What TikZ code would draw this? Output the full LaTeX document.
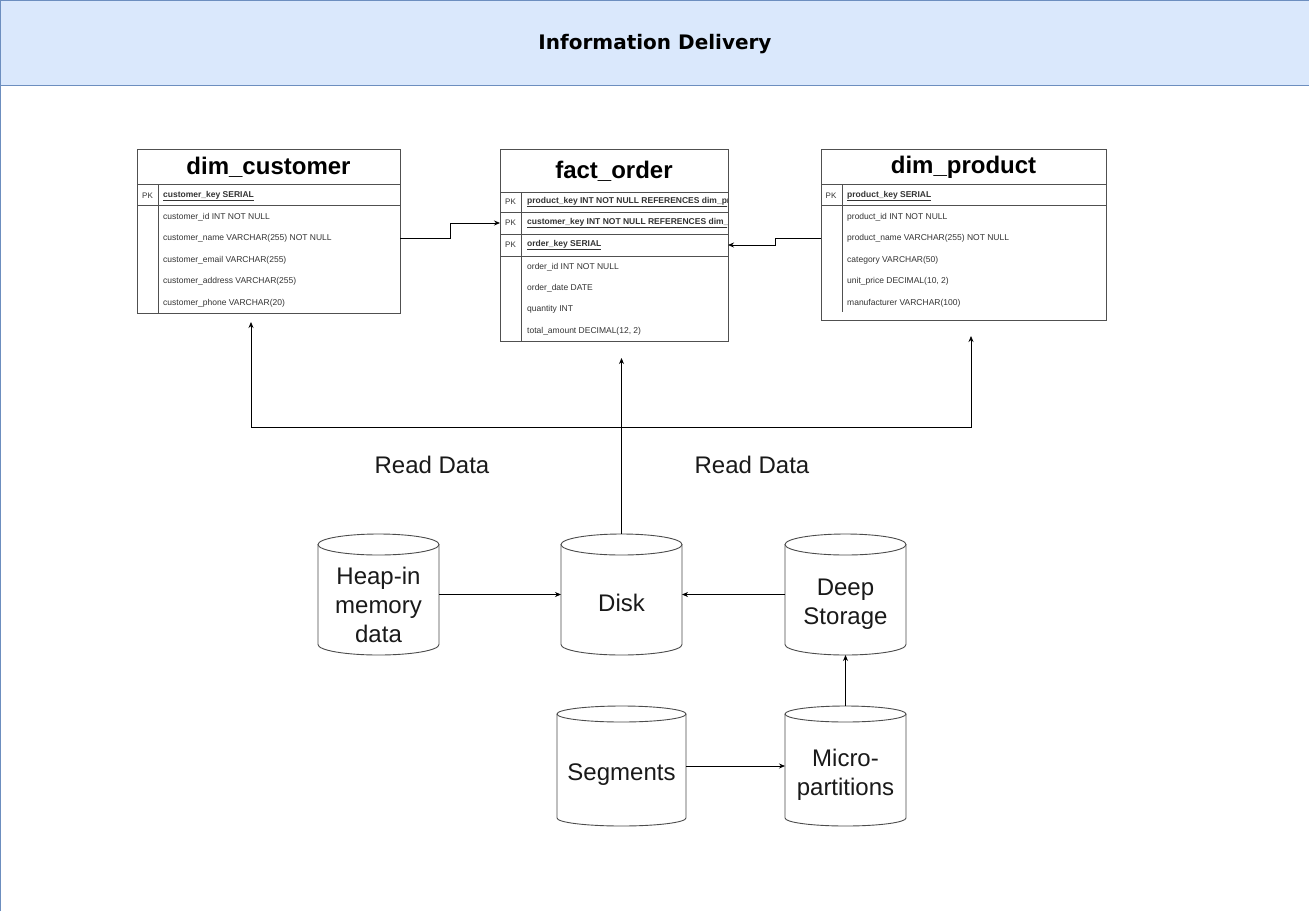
\documentclass[tikz,border=0pt]{standalone}
\usepackage{fontspec}
\setmainfont{Liberation Sans}
\newfontfamily\hdrfont{DejaVu Sans}
\usetikzlibrary{arrows.meta}
\definecolor{hdrfill}{HTML}{DAE8FC}
\definecolor{hdrline}{HTML}{6C8EBF}
\definecolor{tabline}{HTML}{505050}
\definecolor{txtgray}{HTML}{333333}
\newcommand{\dbcyl}[6]{% name, cx, top, half width, height, ry
  \node[inner sep=0pt,outer sep=0pt,minimum width={2*#4},minimum height=#5] (#1) at (#2,{#3+#5/2}) {};
  \draw[cylline] (#2,{#3+#6}) ellipse [x radius=#4, y radius=#6];
  \draw[cylline] ({#2-#4},{#3+#6}) -- ({#2-#4},{#3+#5-#6})
    .. controls ({#2-#4},{#3+#5-#6+0.552*#6}) and ({#2-0.552*#4},{#3+#5}) .. (#2,{#3+#5})
    .. controls ({#2+0.552*#4},{#3+#5}) and ({#2+#4},{#3+#5-#6+0.552*#6}) .. ({#2+#4},{#3+#5-#6})
    -- ({#2+#4},{#3+#6});
}
\begin{document}
\begin{tikzpicture}[x=1pt,y=-1pt,
  tbox/.style={draw=tabline,line width=0.8pt,inner sep=0pt,outer sep=0pt,anchor=north west},
  tline/.style={draw=tabline,line width=0.8pt},
  ttl/.style={font=\fontsize{24}{28}\selectfont\bfseries,inner sep=0pt},
  rowtxt/.style={font=\fontsize{8.5}{10}\selectfont,text=txtgray,anchor=west,inner sep=0pt},
  pktxt/.style={font=\fontsize{8.5}{10}\selectfont\bfseries,text=txtgray,anchor=west,inner sep=0pt},
  pklbl/.style={font=\fontsize{8}{10}\selectfont,text=txtgray,inner sep=0pt},
  cyltxt/.style={font=\fontsize{24}{29}\selectfont,align=center,text=black!90,inner sep=0pt},
  cylline/.style={draw=black!70,line width=0.9pt},
  arr/.style={draw=black,line width=0.8pt,-{Stealth[length=6pt,width=5pt]}},
  bigtxt/.style={font=\fontsize{24}{28}\selectfont,text=black!90,inner sep=0pt},
  hdrtxt/.style={font=\hdrfont\bfseries\fontsize{20}{24}\selectfont,inner sep=0pt}
]
\useasboundingbox (0,0) rectangle (1309,911);
% frame / header
\fill[white] (0,0) rectangle (1309,911);
\fill[hdrfill] (0,0) rectangle (1309,85);
\draw[hdrline,line width=0.9pt] (0.5,911) -- (0.5,0.5) -- (1309,0.5);
\draw[hdrline,line width=0.9pt] (0.5,85) -- (1309,85);
\node[hdrtxt] (hdr) at (655,44) {Information Delivery};

% ---------- dim_customer ----------
\node[tbox,minimum width=263pt,minimum height=164pt] (cust) at (137,149) {};
\node[ttl] (custt) at (268.5,167) {dim\_customer};
\draw[tline] (137,184) -- (400,184);
\draw[tline] (137,205.5) -- (400,205.5);
\draw[tline] (158,184) -- (158,313);
\node[pklbl] (custpkl) at (147.5,196) {PK};
\node[pktxt] (cpk) at (163,196) {\underline{customer\_key SERIAL}};
\node[rowtxt] (cid) at (163,217) {customer\_id INT NOT NULL};
\node[rowtxt] (cname) at (163,238.5) {customer\_name VARCHAR(255) NOT NULL};
\node[rowtxt] (cmail) at (163,260) {customer\_email VARCHAR(255)};
\node[rowtxt] (caddr) at (163,281.5) {customer\_address VARCHAR(255)};
\node[rowtxt] (cphone) at (163,303) {customer\_phone VARCHAR(20)};

% ---------- fact_order ----------
\node[tbox,minimum width=228pt,minimum height=192pt] (fact) at (500,149) {};
\node[ttl] (factt) at (614,171) {fact\_order};
\draw[tline] (500,192) -- (728,192);
\draw[tline] (500,212) -- (728,212);
\draw[tline] (500,234) -- (728,234);
\draw[tline] (500,256) -- (728,256);
\draw[tline] (521,192) -- (521,341);
\node[pklbl] (fpkl1) at (510.5,202) {PK};
\node[pklbl] (fpkl2) at (510.5,223) {PK};
\node[pklbl] (fpkl3) at (510.5,245) {PK};
\begin{scope}
\clip (500,149) rectangle (727,341);
\node[pktxt] (fpk1) at (527,202) {\underline{product\_key INT NOT NULL REFERENCES dim\_product(product\_key)}};
\node[pktxt] (fpk2) at (527,223) {\underline{customer\_key INT NOT NULL REFERENCES dim\_customer(customer\_key)}};
\end{scope}
\node[pktxt] (fpk3) at (527,245) {\underline{order\_key SERIAL}};
\node[rowtxt] (foid) at (527,267) {order\_id INT NOT NULL};
\node[rowtxt] (fdate) at (527,288) {order\_date DATE};
\node[rowtxt] (fqty) at (527,309) {quantity INT};
\node[rowtxt] (famt) at (527,331) {total\_amount DECIMAL(12, 2)};

% ---------- dim_product ----------
\node[tbox,minimum width=285pt,minimum height=171pt] (prod) at (821,149) {};
\node[ttl] (prodt) at (963.5,167) {dim\_product};
\draw[tline] (821,184) -- (1106,184);
\draw[tline] (821,205.5) -- (1106,205.5);
\draw[tline] (842,184) -- (842,312);
\node[pklbl] (ppkl) at (831,196) {PK};
\node[pktxt] (ppk) at (847,196) {\underline{product\_key SERIAL}};
\node[rowtxt] (pid) at (847,217) {product\_id INT NOT NULL};
\node[rowtxt] (pname) at (847,238.5) {product\_name VARCHAR(255) NOT NULL};
\node[rowtxt] (pcat) at (847,260) {category VARCHAR(50)};
\node[rowtxt] (pprice) at (847,281.5) {unit\_price DECIMAL(10, 2)};
\node[rowtxt] (pman) at (847,303) {manufacturer VARCHAR(100)};

% table connectors
\draw[arr] (cust.east |- cname.center) -- ++(50,0) |- (fact.west |- fpk2.center);
\draw[arr] (prod.west |- pname.center) -- ++(-46,0) |- (fact.east |- fpk3.center);

% ---------- cylinders ----------
\dbcyl{heap}{378.5}{534}{60.5}{121}{10.5}
\dbcyl{disk}{621.5}{534}{60.5}{121}{10.5}
\dbcyl{deep}{845.5}{534}{60.5}{121}{10.5}
\dbcyl{seg}{621.5}{706}{64.5}{120}{8}
\dbcyl{micro}{845.5}{706}{60.5}{120}{8}
\node[cyltxt] (heapt) at (378.5,605) {Heap-in\\memory\\data};
\node[cyltxt] (diskt) at (621.5,603) {Disk};
\node[cyltxt] (deept) at (845.5,604.5) {Deep\\Storage};
\node[cyltxt] (segt) at (621.5,775) {Segments};
\node[cyltxt] (microt) at (845.5,775) {Micro-\\partitions};

\draw[arr] (heap.east) -- (disk.west);
\draw[arr] (deep.west) -- (disk.east);
\draw[arr] (seg.east) -- (micro.west);
\draw[arr] (micro.north) -- (deep.south);

% read data connectors
\coordinate (factin) at (621.5,358);
\coordinate (custin) at (251,322);
\coordinate (prodin) at (971,336);
\coordinate (split) at (621.5,427);
\draw[arr] (disk.north) -- (factin);
\draw[arr] (split) -| (custin);
\draw[arr] (split) -| (prodin);

\node[bigtxt] (rd1) at (432,465) {Read Data};
\node[bigtxt] (rd2) at (752,465) {Read Data};
\end{tikzpicture}
\end{document}
